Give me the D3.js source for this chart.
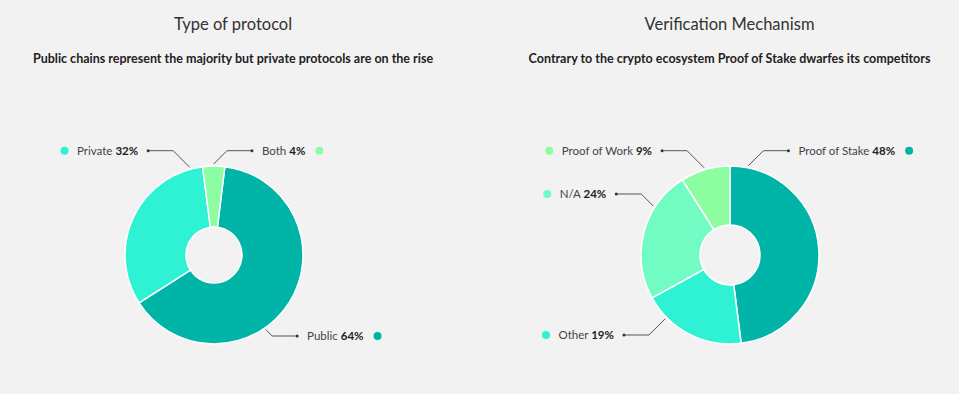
<!DOCTYPE html>
<html>
<head>
<meta charset="utf-8">
<script src="https://cdn.jsdelivr.net/npm/d3@7"></script>
<style>
  body { margin: 0; background: #f2f2f2; }
  svg { display: block; font-family: Lato, "Noto Sans", sans-serif; }
</style>
</head>
<body>
<svg id="chart" width="959" height="394"></svg>
<script>
// data
var protocolTypes = ["Public", "Private", "Both"];
var protocolShares = [64, 32, 4];
var mechanisms = ["Proof of Stake", "Other", "N/A", "Proof of Work"];
var mechanismShares = [48, 19, 24, 9];

var svg = d3.select("#chart");

svg.append("rect")
    .attr("width", 959)
    .attr("height", 394)
    .attr("fill", "#f2f2f2");

// where the leader lines leave each slice (fraction along the slice) and which row the label sits on
var charts = [
    {
        title: "Type of protocol",
        subtitle: "Public chains represent the majority but private protocols are on the rise",
        names: protocolTypes,
        values: protocolShares,
        colors: ["#00b5a7", "#2ff2d4", "#8dfda2"],
        tx: 233, cx: 214, cy: 255, inner: 28, start: 7,
        labels: [
            {t: 0.6, row: 336, side: 1},
            {t: 0.93, row: 150.7, side: -1},
            {t: 0.5, row: 150.7, side: 1}
        ]
    },
    {
        title: "Verification Mechanism",
        subtitle: "Contrary to the crypto ecosystem Proof of Stake dwarfes its competitors",
        names: mechanisms,
        values: mechanismShares,
        colors: ["#00b5a7", "#2ff2d4", "#72fbc3", "#8dfda2"],
        tx: 729.5, cx: 730, cy: 255, inner: 30, start: 0,
        labels: [
            {t: 0.067, row: 150.7, side: 1},
            {t: 0.77, row: 335, side: -1},
            {t: 0.71, row: 194, side: -1},
            {t: 0.49, row: 150.7, side: -1}
        ]
    }
];

var outer = 89;

function drawDonut(c) {
    var g = svg.append("g");

    g.append("text")
        .attr("x", c.tx)
        .attr("y", 30)
        .attr("text-anchor", "middle")
        .attr("font-size", "16.5px")
        .attr("fill", "#333")
        .text(c.title);

    g.append("text")
        .attr("x", c.tx)
        .attr("y", 63)
        .attr("text-anchor", "middle")
        .attr("font-size", "12.5px")
        .attr("font-weight", "bold")
        .attr("fill", "#222")
        .text(c.subtitle);

    var rows = c.names.map((n, i) => ({name: n, value: c.values[i], color: c.colors[i], lab: c.labels[i]}));

    var a0 = c.start * Math.PI / 180;
    var arcs = d3.pie()
        .sort(null)
        .value(d => d.value)
        .startAngle(a0)
        .endAngle(a0 + 2 * Math.PI);

    var path = d3.arc()
        .outerRadius(outer)
        .innerRadius(c.inner);

    var donut = g.append("g")
        .attr("transform", "translate(" + c.cx + "," + c.cy + ")");

    donut.selectAll(".arc")
        .data(arcs(rows))
        .enter()
        .append("path")
        .classed("arc", true)
        .attr("fill", d => d.data.color)
        .attr("stroke", "#ffffff")
        .attr("stroke-width", 1.5)
        .attr("d", path);

    arcs(rows).forEach(d => {
        var lab = d.data.lab;
        var ang = d.startAngle + lab.t * (d.endAngle - d.startAngle);
        var ax = c.cx + (outer + 2) * Math.sin(ang);
        var ay = c.cy - (outer + 2) * Math.cos(ang);
        var kx = ax + lab.side * Math.abs(lab.row - ay);
        var ex = kx + lab.side * 25;

        g.append("polyline")
            .attr("points", [[ax, ay], [kx, lab.row], [ex, lab.row]].join(" "))
            .attr("fill", "none")
            .attr("stroke", "#555")
            .attr("stroke-width", 1);

        g.append("circle")
            .attr("cx", ex)
            .attr("cy", lab.row)
            .attr("r", 1.5)
            .attr("fill", "#333");

        var txt = g.append("text")
            .attr("y", lab.row)
            .attr("dy", "0.36em")
            .attr("font-size", "11.5px")
            .attr("fill", "#444");
        txt.append("tspan").text(d.data.name + " ");
        txt.append("tspan")
            .attr("font-weight", "bold")
            .attr("fill", "#222")
            .text(d.data.value + "%");

        var w = txt.node().getComputedTextLength();
        var tx = lab.side > 0 ? ex + 10 : ex - 10 - w;
        txt.attr("x", tx);

        g.append("circle")
            .attr("cx", lab.side > 0 ? tx + w + 14 : tx - 12.5)
            .attr("cy", lab.row)
            .attr("r", 4)
            .attr("fill", d.data.color);
    });
}

charts.forEach(drawDonut);
</script>
</body>
</html>
